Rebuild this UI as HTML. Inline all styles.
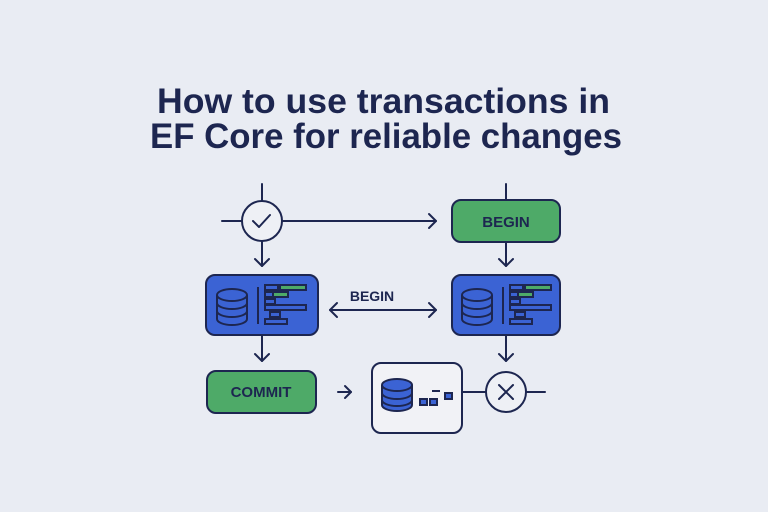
<!DOCTYPE html>
<html><head><meta charset="utf-8"><style>
html,body{margin:0;padding:0;background:#e9ecf3;}
svg{display:block}
</style></head><body>
<svg width="768" height="512" viewBox="0 0 768 512" xmlns="http://www.w3.org/2000/svg">
<rect width="768" height="512" fill="#e9ecf3"/>
<g font-family="Liberation Sans, sans-serif" font-weight="bold" fill="#1d2650">
<text x="157" y="113" font-size="35" textLength="453" lengthAdjust="spacingAndGlyphs">How to use transactions in</text>
<text x="150" y="148" font-size="35" textLength="472" lengthAdjust="spacingAndGlyphs">EF Core for reliable changes</text>
</g>
<g stroke="#1d2650" stroke-width="2" fill="none" stroke-linecap="round" stroke-linejoin="round">
<!-- check circle -->
<line x1="262" y1="184" x2="262" y2="201"/>
<line x1="222" y1="221" x2="242" y2="221"/>
<circle cx="262" cy="221" r="20" fill="#eef0f5"/>
<polyline points="253,221 259,227 270,215"/>
<line x1="282" y1="221" x2="436" y2="221"/>
<polyline points="429,214 436,221 429,228"/>
<!-- BEGIN box -->
<line x1="506" y1="184" x2="506" y2="200"/>
<rect x="452" y="200" width="108" height="42" rx="9" fill="#4eaa68"/>
<line x1="506" y1="242" x2="506" y2="266"/>
<polyline points="499,259 506,266 513,259"/>
<line x1="262" y1="241" x2="262" y2="266"/>
<polyline points="255,259 262,266 269,259"/>
<!-- blue boxes -->
<rect x="206" y="275" width="112" height="60" rx="9" fill="#3b63d4"/>
<rect x="452" y="275" width="108" height="60" rx="9" fill="#3b63d4"/>
<!-- double arrow -->
<line x1="330" y1="310" x2="436" y2="310"/>
<polyline points="337,303 330,310 337,317"/>
<polyline points="429,303 436,310 429,317"/>
<!-- down arrows -->
<line x1="262" y1="335" x2="262" y2="361"/>
<polyline points="255,354 262,361 269,354"/>
<line x1="506" y1="335" x2="506" y2="361"/>
<polyline points="499,354 506,361 513,354"/>
<!-- commit -->
<rect x="207" y="371" width="109" height="42" rx="9" fill="#4eaa68"/>
<line x1="338" y1="392" x2="351" y2="392"/>
<polyline points="345,386 351,392 345,398"/>
<!-- middle box -->
<rect x="372" y="363" width="90" height="70" rx="9" fill="#f1f2f6"/>
<line x1="462" y1="392" x2="486" y2="392"/>
<circle cx="506" cy="392" r="20" fill="#eef0f5"/>
<line x1="499" y1="385" x2="513" y2="399"/>
<line x1="513" y1="385" x2="499" y2="399"/>
<line x1="526" y1="392" x2="545" y2="392"/>
</g>
<!-- db icons -->
<g id="db" stroke="#1d2650" stroke-width="2" fill="#3b63d4">
<path d="M217,295 v24 a15,6 0 0 0 30,0 v-24"/>
<ellipse cx="232" cy="295" rx="15" ry="6"/>
<path d="M217,303 a15,6 0 0 0 30,0 M217,311 a15,6 0 0 0 30,0" fill="none"/>
<line x1="258" y1="287" x2="258" y2="324"/>
<rect x="265" y="285" width="13" height="5" fill="#3b63d4"/>
<rect x="280" y="285" width="26" height="5" fill="#4eaa68"/>
<rect x="265" y="292" width="8" height="5"/>
<rect x="273" y="292" width="15" height="5" fill="#4eaa68"/>
<rect x="265" y="299" width="10" height="5"/>
<rect x="265" y="305" width="41" height="5"/>
<rect x="270" y="312" width="10" height="5"/>
<rect x="265" y="319" width="22" height="5"/>
</g>
<use href="#db" transform="translate(245,0)"/>
<g stroke="#1d2650" stroke-width="2" fill="#3b63d4">
<path d="M382,385 v20 a15,6 0 0 0 30,0 v-20"/>
<ellipse cx="397" cy="385" rx="15" ry="6"/>
<path d="M382,393 a15,6 0 0 0 30,0 M382,400 a15,6 0 0 0 30,0" fill="none"/>
<rect x="420" y="399" width="7" height="6"/>
<rect x="430" y="399" width="7" height="6"/>
<rect x="445" y="393" width="7" height="6"/>
<line x1="432" y1="391" x2="440" y2="391"/>
</g>
<g font-family="Liberation Sans, sans-serif" font-weight="bold" fill="#1d2650" text-anchor="middle">
<text x="506" y="227" font-size="15">BEGIN</text>
<text x="372" y="301" font-size="14">BEGIN</text>
<text x="261" y="397" font-size="15">COMMIT</text>
</g>
</svg>
</body></html>
